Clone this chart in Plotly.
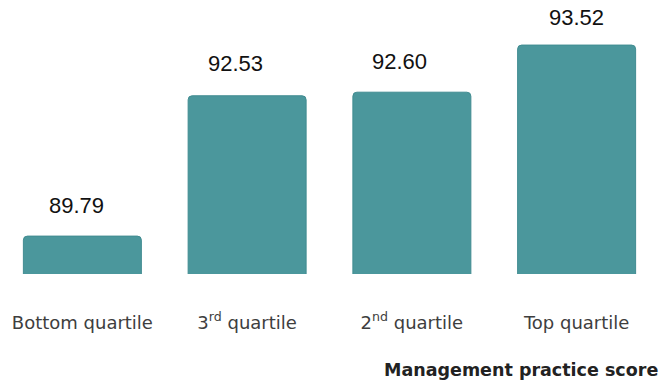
import plotly.graph_objects as go

# Management practice quartiles and their mean scores
categories = ["Bottom quartile", "3rd quartile", "2nd quartile", "Top quartile"]
tick_labels = [
    "Bottom quartile",
    "3<sup>rd</sup> quartile",
    "2<sup>nd</sup> quartile",
    "Top quartile",
]
scores = [89.79, 92.53, 92.60, 93.52]

# small nudges for the value labels (pixels)
label_dx = [-6, -12, -12, 0]
label_dy = [16, 18, 16, 13]

BAR = "#4B979C"

fig = go.Figure(
    go.Bar(
        x=categories,
        y=scores,
        marker=dict(color=BAR, line=dict(color="#418c91", width=1), cornerradius=4),
        hoverinfo="skip",
    )
)

for cat, v, dx, dy in zip(categories, scores, label_dx, label_dy):
    fig.add_annotation(
        x=cat, y=v, text=f"{v:.2f}", showarrow=False,
        yanchor="bottom", xshift=dx, yshift=dy,
        font=dict(family="Liberation Sans, Arial, sans-serif", size=22, color="#111111"),
    )

fig.add_annotation(
    x=1.002, y=-0.35, xref="paper", yref="paper",
    xanchor="right", yanchor="middle", showarrow=False,
    text="<b>Management practice score</b>",
    font=dict(family="DejaVu Sans, sans-serif", size=17.5, color="#222222"),
)

fig.update_layout(
    width=663, height=384,
    margin=dict(l=0, r=4, t=0, b=110),
    paper_bgcolor="white", plot_bgcolor="white",
    bargap=0.284,
    showlegend=False,
    xaxis=dict(
        tickmode="array", tickvals=categories, ticktext=tick_labels,
        ticks="outside", ticklen=32, tickcolor="rgba(0,0,0,0)",
        showline=False, showgrid=False, zeroline=False,
        tickfont=dict(family="DejaVu Sans, sans-serif", size=18, color="#3e3e3e"),
    ),
    yaxis=dict(
        range=[89.05, 94.40], visible=False, showgrid=False, zeroline=False,
    ),
)

fig.write_html("out.html")
